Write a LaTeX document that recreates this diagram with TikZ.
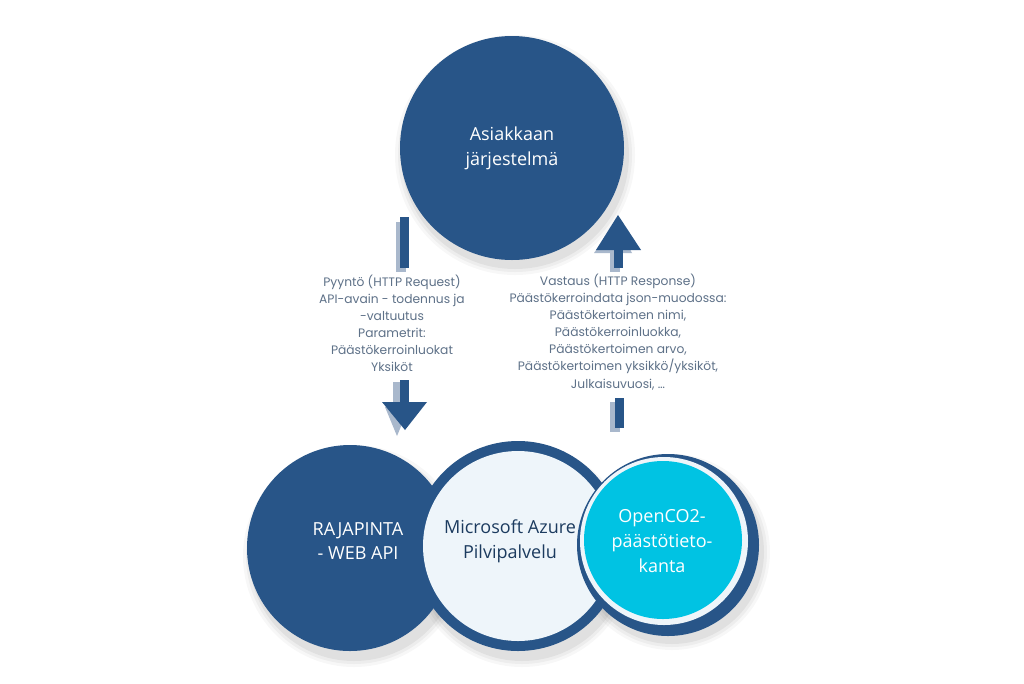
\documentclass[tikz,border=0pt]{standalone}
\usepackage{fontspec}
\setmainfont{Open Sans}
\newfontfamily\labfont{Poppins}
\definecolor{dblue}{HTML}{285588}
\definecolor{lblue}{HTML}{EEF5FA}
\definecolor{cyanc}{HTML}{00C3E3}
\definecolor{txtg}{HTML}{5E7188}
\definecolor{shade}{HTML}{A9B8CC}
\begin{document}
\begin{tikzpicture}[x=0.75pt,y=-0.75pt,
  ctext/.style={align=center,font=\fontsize{13.5}{18.5}\selectfont},
  lab/.style={align=center,text=txtg,font=\labfont\fontsize{9.2}{12.8}\selectfont},
  shaft/.style={fill=dblue},
  ghost/.style={fill=shade}]
\useasboundingbox (0,0) rectangle (1024,683);
\fill[white] (0,0) rectangle (1024,683);
% shadows
\foreach \r/\o in {8/0.03,5/0.04,2/0.05}{
 \fill[black,opacity=\o] (515,155) circle (112+\r);
 \fill[black,opacity=\o] (354,556) circle (103+\r);
 \fill[black,opacity=\o] (522,556) circle (103+\r);
 \fill[black,opacity=\o] (672,552) circle (90+\r);
}
% top circle
\node[circle,fill=dblue,minimum size=224*0.75pt,inner sep=0,text=white,ctext] (client) at (512,148) {Asiakkaan\\järjestelmä};
% bottom circles
\node[circle,fill=dblue,minimum size=206*0.75pt,inner sep=0] (api) at (350,548) {};
\node[circle,fill=dblue,minimum size=210*0.75pt,inner sep=0] (azure) at (518,546) {};
\fill[lblue] (azure.center) circle (95);
\node[circle,fill=dblue,minimum size=182*0.75pt,inner sep=0] (db) at (668,545) {};
\fill[lblue] (664,541) circle (84);
\fill[cyanc] (663,540) circle (79);
\node[text=white,ctext] at (358,541) {RAJAPINTA\\- WEB API};
\node[ctext,text=dblue!70!black] at (510,541) {Microsoft Azure\\Pilvipalvelu};
\node[text=white,ctext] at (662,541) {OpenCO2-\\päästötieto-\\kanta};
% labels
\node[lab] (req) at (392,323) {Pyyntö (HTTP Request)\\API-avain - todennus ja\\-valtuutus\\Parametrit:\\Päästökerroinluokat\\Yksiköt};
\node[lab] (resp) at (618,332) {Vastaus (HTTP Response)\\Päästökerroindata json-muodossa:\\Päästökertoimen nimi,\\Päästökerroinluokka,\\Päästökertoimen arvo,\\Päästökertoimen yksikkö/yksiköt,\\Julkaisuvuosi, …};
% request arrow (down)
\fill[ghost] (396,222) rectangle (406,272);
\fill[shaft] (400,217) rectangle (409,268);
\fill[ghost] (393,382) rectangle (403,407) -- (385,407) -- (397,436) -- (409,407) -- cycle;
\fill[shaft] (400,380) rectangle (409,405);
\fill[shaft] (382,402) -- (427,402) -- (405,430) -- cycle;
% response arrow (up)
\fill[ghost] (610,250) rectangle (620,272);
\fill[ghost] (594,253) -- (616,222) -- (632,253) -- cycle;
\fill[shaft] (614,246) rectangle (623,268);
\fill[shaft] (596,250) -- (618,215) -- (641,250) -- cycle;
\fill[ghost] (610,402) rectangle (620,432);
\fill[shaft] (615,398) rectangle (624,428);
\end{tikzpicture}
\end{document}
